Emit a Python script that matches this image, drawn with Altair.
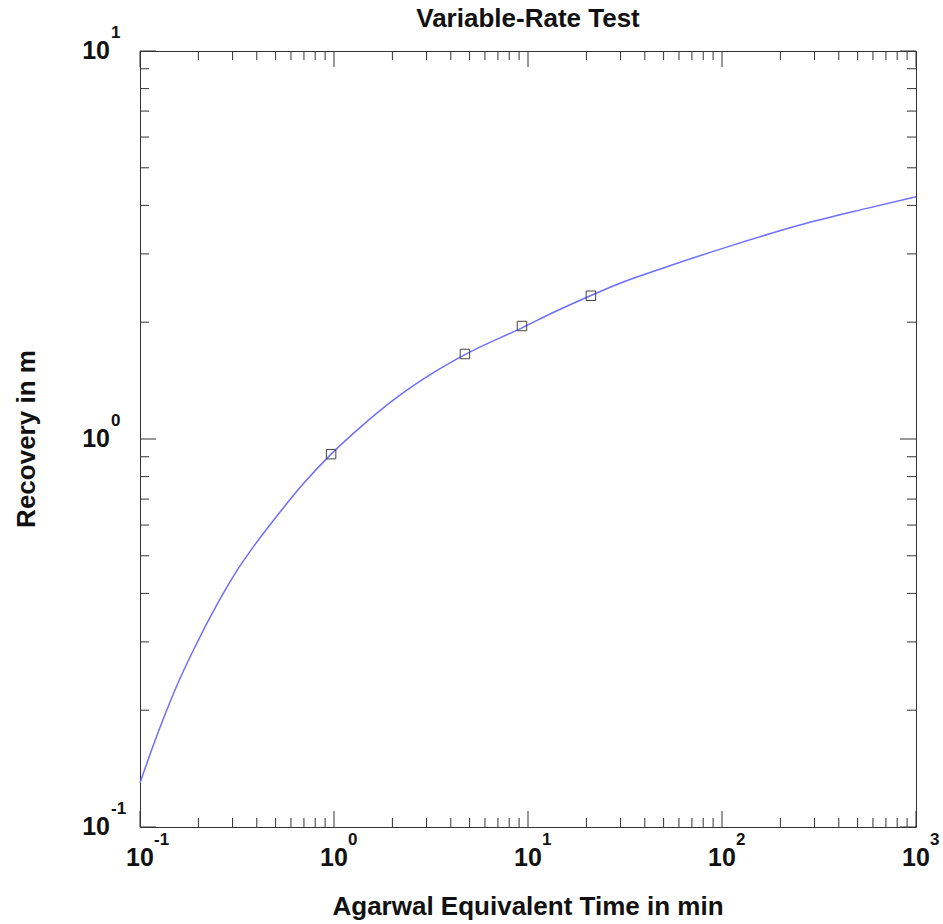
import altair as alt
import pandas as pd

# fitted curve (Agarwal equivalent time in min, recovery in m)
curve_time = [0.1, 0.127, 0.157, 0.188, 0.252, 0.309, 0.392, 0.479, 0.70, 0.966, 1.36, 2.11,
              3.24, 4.73, 9.42, 14.1, 21.4, 29.8, 52.0, 114, 252, 558, 1000]
curve_recovery = [0.130, 0.181, 0.235, 0.285, 0.378, 0.450, 0.535, 0.610, 0.77, 0.914, 1.07, 1.28,
                  1.48, 1.65, 1.94, 2.14, 2.35, 2.52, 2.78, 3.16, 3.56, 3.93, 4.21]

# observations
obs_time = [0.966, 4.73, 9.31, 21.1]
obs_recovery = [0.914, 1.656, 1.955, 2.34]

# axis decades
x_major = [0.1, 1, 10, 100, 1000]
x_exp = ["-1", "0", "1", "2", "3"]
y_major = [0.1, 1, 10]
y_exp = ["-1", "0", "1"]
minor_mult = [2, 3, 4, 5, 6, 7, 8, 9]

W = H = 776
FONT = "Liberation Sans"
FRAME = "#333333"

x_minor = [m * d for d in x_major[:-1] for m in minor_mult]
y_minor = [m * d for d in y_major[:-1] for m in minor_mult]

xs = alt.Scale(type="log", domain=[0.1, 1000])
ys = alt.Scale(type="log", domain=[0.1, 10])

curve_df = pd.DataFrame({"t": curve_time, "r": curve_recovery})
obs_df = pd.DataFrame({"t": obs_time, "r": obs_recovery})
xmaj_df = pd.DataFrame({"v": x_major, "e": x_exp})
ymaj_df = pd.DataFrame({"v": y_major, "e": y_exp})
xmin_df = pd.DataFrame({"v": x_minor})
ymin_df = pd.DataFrame({"v": y_minor})

X = lambda: alt.X("v:Q", scale=xs, axis=None)
Y = lambda: alt.Y("v:Q", scale=ys, axis=None)

line = alt.Chart(curve_df).mark_line(color="#6e6eff", strokeWidth=1.5, interpolate="monotone").encode(
    x=alt.X("t:Q", scale=xs, axis=None), y=alt.Y("r:Q", scale=ys, axis=None))

pts = alt.Chart(obs_df).mark_point(shape="square", filled=False, color="#444444", size=90,
                                   strokeWidth=1, opacity=1).encode(
    x=alt.X("t:Q", scale=xs, axis=None), y=alt.Y("r:Q", scale=ys, axis=None))

layers = [line, pts]


def xticks(df, length):
    bottom = alt.Chart(df).mark_rule(color=FRAME, strokeWidth=1).encode(
        x=X(), y=alt.value(H), y2=alt.value(H - length))
    top = alt.Chart(df).mark_rule(color=FRAME, strokeWidth=1).encode(
        x=X(), y=alt.value(0), y2=alt.value(length))
    return [bottom, top]


def yticks(df, length):
    left = alt.Chart(df).mark_rule(color=FRAME, strokeWidth=1).encode(
        y=Y(), x=alt.value(0), x2=alt.value(length))
    right = alt.Chart(df).mark_rule(color=FRAME, strokeWidth=1).encode(
        y=Y(), x=alt.value(W), x2=alt.value(W - length))
    return [left, right]


layers += xticks(xmaj_df, 16) + xticks(xmin_df, 9) + yticks(ymaj_df, 16) + yticks(ymin_df, 9)

# tick labels
xbase = alt.Chart(xmaj_df).mark_text(text="10", font=FONT, fontSize=25, fontWeight="bold",
                                     align="center", baseline="middle", color="#111").encode(
    x=X(), y=alt.value(H + 31))
xsup = alt.Chart(xmaj_df).mark_text(font=FONT, fontSize=17, fontWeight="bold", align="left",
                                    baseline="middle", dx=14, color="#111").encode(
    x=X(), y=alt.value(H + 13), text="e:N")
ybase = alt.Chart(ymaj_df).mark_text(text="10", font=FONT, fontSize=25, fontWeight="bold",
                                     align="right", baseline="middle", color="#111").encode(
    y=Y(), x=alt.value(-30))
ysup = alt.Chart(ymaj_df).mark_text(font=FONT, fontSize=17, fontWeight="bold", align="left",
                                    baseline="middle", dy=-18, color="#111").encode(
    y=Y(), x=alt.value(-29), text="e:N")
layers += [xbase, xsup, ybase, ysup]

one = pd.DataFrame({"a": [0]})
title = alt.Chart(one).mark_text(text="Variable-Rate Test", font=FONT, fontSize=26, fontWeight="bold",
                                 align="center", baseline="middle", color="#111").encode(
    x=alt.value(W / 2), y=alt.value(-32))
xtitle = alt.Chart(one).mark_text(text="Agarwal Equivalent Time in min", font=FONT, fontSize=26,
                                  fontWeight="bold", align="center", baseline="middle", color="#111").encode(
    x=alt.value(W / 2), y=alt.value(856))
ytitle = alt.Chart(one).mark_text(text="Recovery in m", font=FONT, fontSize=26, fontWeight="bold",
                                  align="center", baseline="middle", angle=270, color="#111").encode(
    x=alt.value(-113), y=alt.value(H / 2))
layers += [title, xtitle, ytitle]

chart = alt.layer(*layers).properties(
    width=W, height=H,
    padding={"left": 140, "top": 51, "right": 27, "bottom": 97},
    autosize=alt.AutoSizeParams(type="none"),
    background="white",
).configure_view(stroke=FRAME, strokeWidth=1)

chart.save("out.html", embed_options={"renderer": "svg", "actions": False})
